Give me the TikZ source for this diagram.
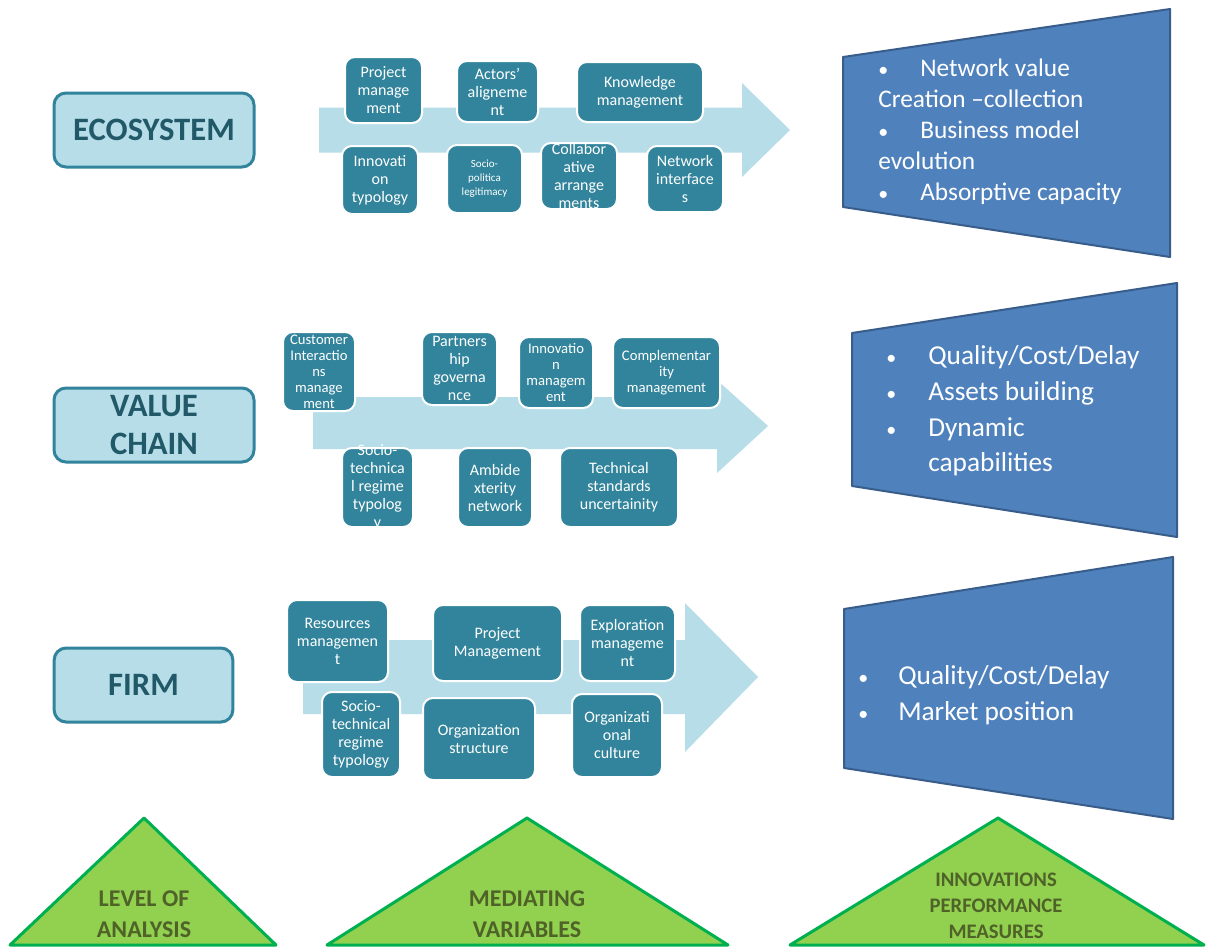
\documentclass[tikz,border=0pt]{standalone}
\usepackage{fontspec}
\setmainfont{Carlito}
\definecolor{flowfill}{HTML}{B7DEE8}
\definecolor{varfill}{HTML}{31849B}
\definecolor{lvltext}{HTML}{215968}
\definecolor{measfill}{HTML}{4F81BD}
\definecolor{measline}{HTML}{385D8A}
\definecolor{trifill}{HTML}{92D050}
\definecolor{triline}{HTML}{00B050}
\definecolor{tritext}{HTML}{4F6228}
\tikzset{
  flow/.style={fill=flowfill},
  lvl/.style={draw=varfill, fill=flowfill, line width=2.25pt, rounded corners=9pt,
    text=lvltext, align=center, inner sep=0pt, font=\fontsize{24.5}{29}\selectfont\bfseries},
  var/.style={draw=white, fill=varfill, line width=1.5pt, rounded corners=7.5pt, inner sep=0pt},
  vt/.style={text=white, align=center, inner sep=0pt},
  meas/.style={draw=measline, fill=measfill, line width=1.5pt, line join=round},
  mt/.style={text=white, anchor=west, inner sep=0pt, text height=0.7em, text depth=0.2em},
  bul/.style={mt, font=\fontsize{15}{15}\selectfont},
  tri/.style={draw=triline, fill=trifill, line width=2.25pt, line join=round},
  tt/.style={text=tritext, align=center, inner sep=0pt, font=\bfseries},
}
\begin{document}
\begin{tikzpicture}[x=0.75pt, y=-0.75pt]
  \useasboundingbox[fill=white] (0,0) rectangle (1206,947);
  % levels of analysis
  \node[lvl, minimum width=150pt, minimum height=55.5pt] (eco) at (154,130) {ECOSYSTEM};
  \node[lvl, minimum width=150pt, minimum height=55.5pt] (vch) at (154,425) {VALUE\\CHAIN};
  \node[lvl, minimum width=134pt, minimum height=55.5pt] (firm) at (143.5,685) {FIRM};
  % flow arrows
  \fill[flow] (319,107.5) -- (742,107.5) -- (742,83) -- (790,130) -- (742,177) -- (742,152.5) -- (319,152.5) -- cycle;
  \fill[flow] (313,397) -- (717,397) -- (717,380) -- (768,426) -- (717,473) -- (717,449) -- (313,449) -- cycle;
  \fill[flow] (303,640) -- (685,640) -- (685,603) -- (758,677) -- (685,752) -- (685,714) -- (303,714) -- cycle;
  % mediating variables
  \foreach \nm/\x/\y/\w/\h/\fs/\bs/\txt in {
    pmA/383.5/90/77/66/12/13.5/{Project\\manage\\ment},
    act/497.5/91.5/81/61/12/13.5/{Actors’\\alignеme\\nt},
    km/640/92/126/60/12/13.5/{Knowledge\\management},
    invt/380/180/76/68/12/13.5/{Innovati\\on\\typology},
    spl/484.5/179/75/68/8.25/10.5/{Socio-\\politica\\legitimacy},
    coll/579/176/76/66/12/13.5/{Collabor\\ative\\arrange\\ments},
    nif/685/179/76/66/12/13.5/{Network\\interface\\s},
    cim/319/371.5/72/79/11/12/{Customer\\Interactio\\ns\\manage\\ment},
    pg/459.5/368.5/75/73/12/13.5/{Partners\\hip\\governa\\nce},
    inm/556/372.5/74/71/11/12/{Innovatio\\n\\managem\\ent},
    cm/666.5/372.5/107/71/11/12/{Complementar\\ity\\management},
    strB/377.5/487.5/71/79/12/13.5/{Socio-\\technica\\l regime\\typolog\\y},
    amb/495/487.5/74/79/12/13.5/{Ambide\\xterity\\network},
    tsu/619/487.5/118/79/12/13.5/{Technical\\standards\\uncertainity},
    rm/337.5/641/101/82/12/13.5/{Resources\\managemen\\t},
    pmC/497.5/643/129/76/12/13.5/{Project\\Management},
    em/627.5/643/95/76/12/13.5/{Exploration\\manageme\\nt},
    strC/361/734.5/78/85/12/13.5/{Socio-\\technical\\regime\\typology},
    os/479/739/112/82/12/13.5/{Organization\\structure},
    oc/617/735.5/90/83/12/13.5/{Organizati\\onal\\culture}}{
    \node[var, minimum width=0.75pt*\w, minimum height=0.75pt*\h] (\nm) at (\x,\y) {};
    \node[vt, font=\fontsize{\fs}{\bs}\selectfont] (\nm-t) at (\nm) {\txt};
  }
  % performance measures
  \draw[meas] (843,57) -- (1170,9) -- (1170,257) -- (843,207) -- cycle;
  \draw[meas] (852,333) -- (1177,283) -- (1177,537) -- (852,486) -- cycle;
  \draw[meas] (844,609) -- (1173,557) -- (1173,819) -- (844,768) -- cycle;
  \node[bul] (nvb) at (878,73) {•};
  \node[bul] (bmb) at (878,135) {•};
  \node[bul] (acb) at (878,197) {•};
  \node[bul] (qcdb) at (886,361) {•};
  \node[bul] (abb) at (886,397) {•};
  \node[bul] (dcb) at (886,433) {•};
  \node[bul] (qcfb) at (858,681) {•};
  \node[bul] (mpb) at (858,717) {•};
  \begin{scope}[every node/.style={mt, font=\fontsize{19}{23}\selectfont}]
    \node (nv) at (920,73) {Network value};
    \node (cc) at (878,104) {Creation –collection};
    \node (bm) at (920,135) {Business model};
    \node (ev) at (878,166) {evolution};
    \node (ac) at (920,197) {Absorptive capacity};
  \end{scope}
  \begin{scope}[every node/.style={mt, font=\fontsize{20.5}{27}\selectfont}]
    \node (qcd) at (928,361) {Quality/Cost/Delay};
    \node (ab) at (928,397) {Assets building};
    \node (dc) at (928,433) {Dynamic};
    \node (cap) at (928,468) {capabilities};
    \node (qcf) at (898,681) {Quality/Cost/Delay};
    \node (mp) at (898,717) {Market position};
  \end{scope}
  % legend triangles
  \draw[tri] (10,945) -- (144,818) -- (276,945) -- cycle;
  \draw[tri] (327,945) -- (527,818) -- (728,945) -- cycle;
  \draw[tri] (790,945) -- (998,818) -- (1204,945) -- cycle;
  \node[tt, font=\fontsize{18}{23}\selectfont\bfseries] (loa) at (144,914) {LEVEL OF\\ANALYSIS};
  \node[tt, font=\fontsize{18}{23}\selectfont\bfseries] (medv) at (527,914) {MEDIATING\\VARIABLES};
  \node[tt, font=\fontsize{15.5}{19.5}\selectfont\bfseries] (ipm) at (996,906) {INNOVATIONS\\PERFORMANCE\\MEASURES};
\end{tikzpicture}
\end{document}
